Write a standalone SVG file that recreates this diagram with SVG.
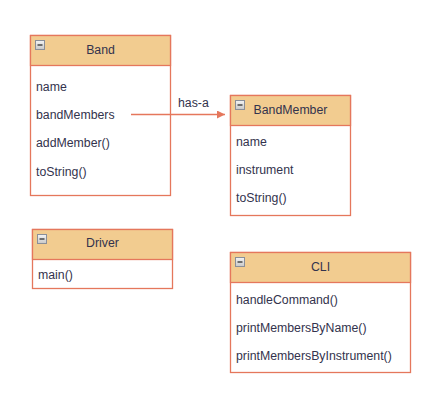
<svg xmlns="http://www.w3.org/2000/svg" width="435" height="401" viewBox="0 0 435 401">
<defs>
<style>
.box{fill:#ffffff;stroke:#e5775c;stroke-width:1.3}
.hdr{fill:#f2cc90;stroke:#e5775c;stroke-width:1.3}
.t{font-family:"Liberation Sans",Arial,sans-serif;font-size:12.3px;fill:#33334d}
.c{text-anchor:middle}
.mn{stroke:#222;stroke-width:1.2}
.ln{stroke:#e5775c;stroke-width:1.3;fill:none}
</style>
<linearGradient id="g" x1="0" y1="0" x2="0" y2="1"><stop offset="0" stop-color="#f4f4f4"/><stop offset="1" stop-color="#c8c8c8"/></linearGradient>
<marker id="ah" viewBox="0 0 8 8" refX="8" refY="4" markerWidth="8" markerHeight="8" markerUnits="userSpaceOnUse" orient="auto"><path d="M0,0 L8,4 L0,8 Z" fill="#e5775c"/></marker>
</defs>
<g id="Band">
<rect class="box" x="30.5" y="35.5" width="140" height="160"/>
<rect class="hdr" x="30.5" y="35.5" width="140" height="30"/>
<rect x="35.5" y="40.5" width="9" height="9" fill="url(#g)" stroke="#8a8f99"/>
<line class="mn" x1="37.5" y1="45" x2="42.5" y2="45"/>
<text class="t c" x="100.5" y="54">Band</text>
<text class="t" x="36" y="91">name</text>
<text class="t" x="36" y="119">bandMembers</text>
<text class="t" x="36" y="147">addMember()</text>
<text class="t" x="36" y="176">toString()</text>
</g>
<g id="BandMember">
<rect class="box" x="230.5" y="95.5" width="120" height="120"/>
<rect class="hdr" x="230.5" y="95.5" width="120" height="30"/>
<rect x="235.5" y="100.5" width="9" height="9" fill="url(#g)" stroke="#8a8f99"/>
<line class="mn" x1="237.5" y1="105" x2="242.5" y2="105"/>
<text class="t c" x="290.5" y="114">BandMember</text>
<text class="t" x="236" y="146">name</text>
<text class="t" x="236" y="174">instrument</text>
<text class="t" x="236" y="202">toString()</text>
</g>
<g id="Driver">
<rect class="box" x="32.5" y="229.5" width="140" height="59"/>
<rect class="hdr" x="32.5" y="229.5" width="140" height="30"/>
<rect x="37.5" y="234.5" width="9" height="9" fill="url(#g)" stroke="#8a8f99"/>
<line class="mn" x1="39.5" y1="239" x2="44.5" y2="239"/>
<text class="t c" x="102.5" y="247">Driver</text>
<text class="t" x="38" y="279">main()</text>
</g>
<g id="CLI">
<rect class="box" x="230.5" y="252.5" width="180" height="120"/>
<rect class="hdr" x="230.5" y="252.5" width="180" height="30"/>
<rect x="235.5" y="257.5" width="9" height="9" fill="url(#g)" stroke="#8a8f99"/>
<line class="mn" x1="237.5" y1="262" x2="242.5" y2="262"/>
<text class="t c" x="320.5" y="271">CLI</text>
<text class="t" x="236" y="304">handleCommand()</text>
<text class="t" x="236" y="332">printMembersByName()</text>
<text class="t" x="236" y="360">printMembersByInstrument()</text>
</g>
<g id="connectors">
<line class="ln" x1="131" y1="114.5" x2="225" y2="114.5" marker-end="url(#ah)"/>
<text class="t" x="178" y="107">has-a</text>
</g>
</svg>
